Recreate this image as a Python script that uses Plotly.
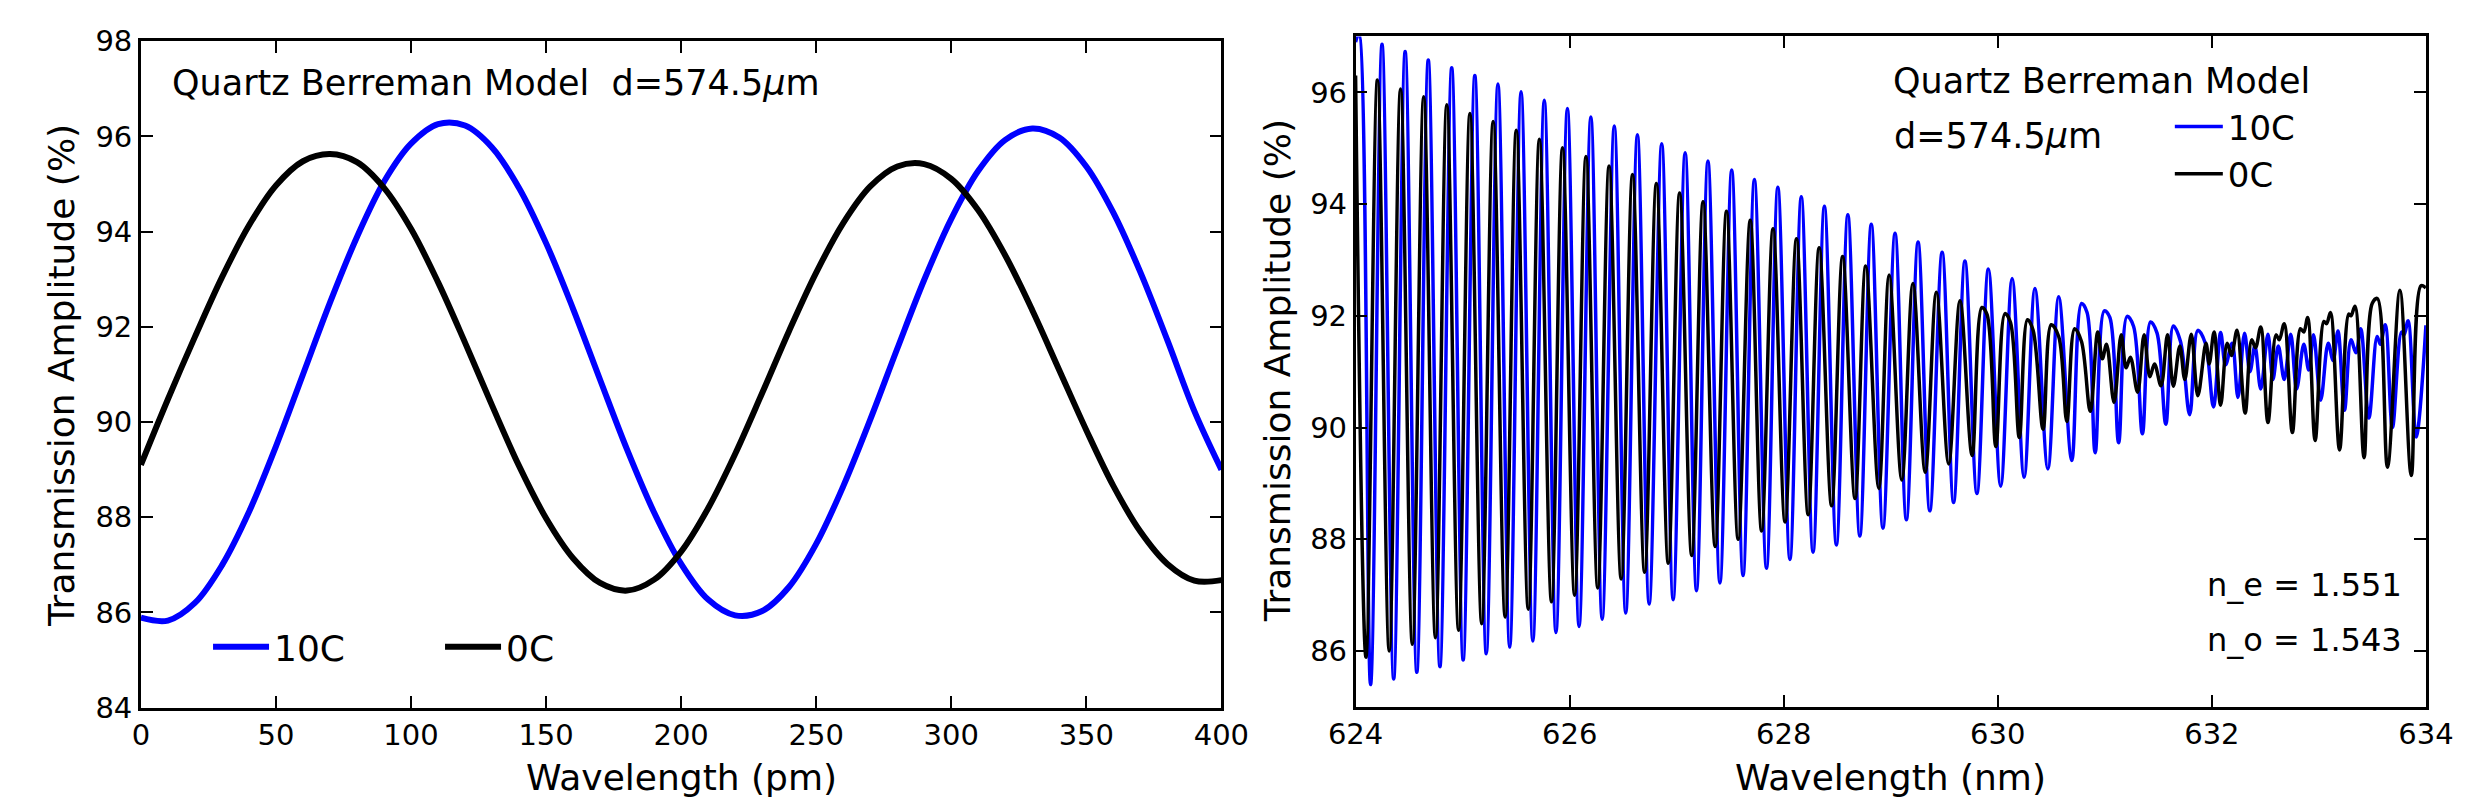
import plotly.graph_objects as go

W, H = 2486, 812
FONT = 'DejaVu Sans'

# ---- left panel: 0-400 pm, values every 10 pm
pm_grid = [0, 10, 20, 30, 40, 50, 60, 70, 80, 90, 100, 110, 120, 130, 140, 150, 160, 170, 180, 190,
           200, 210, 220, 230, 240, 250, 260, 270, 280, 290, 300, 310, 320, 330, 340, 350, 360, 370,
           380, 390, 400]
amp_10c = [85.89, 85.83, 86.20, 86.99, 88.11, 89.49, 91.00, 92.51, 93.89, 95.05, 95.85, 96.26,
           96.23, 95.77, 94.92, 93.76, 92.38, 90.89, 89.42, 88.10, 87.02, 86.27, 85.94, 86.03,
           86.54, 87.44, 88.65, 90.05, 91.54, 92.99, 94.27, 95.28, 95.93, 96.17, 95.98, 95.37,
           94.40, 93.15, 91.72, 90.23, 89.00]
amp_0c = [89.10, 90.48, 91.79, 93.04, 94.13, 94.97, 95.48, 95.63, 95.46, 94.92, 94.06, 92.94,
          91.67, 90.35, 89.08, 87.98, 87.14, 86.62, 86.46, 86.69, 87.28, 88.19, 89.33, 90.61,
          91.92, 93.14, 94.18, 94.95, 95.37, 95.42, 95.11, 94.45, 93.50, 92.35, 91.09, 89.83,
          88.66, 87.70, 87.02, 86.67, 86.68]

# ---- right panel: 624-634 nm, extrema (and shoulders)
nm_pts_10c = [
    (624.000, 96.90), (624.030, 97.05), (624.140, 85.40), (624.247, 96.86), (624.356, 85.50),
    (624.463, 96.73), (624.572, 85.62), (624.679, 96.58), (624.788, 85.72), (624.898, 96.44),
    (625.005, 85.84), (625.114, 96.30), (625.221, 85.95), (625.330, 96.15), (625.440, 86.07),
    (625.546, 96.01), (625.656, 86.18), (625.763, 95.86), (625.872, 86.33), (625.979, 95.71),
    (626.088, 86.44), (626.198, 95.56), (626.304, 86.57), (626.417, 95.40), (626.524, 86.68),
    (626.633, 95.24), (626.743, 86.84), (626.860, 95.08), (626.967, 86.92), (627.079, 94.92),
    (627.185, 87.08), (627.292, 94.77), (627.404, 87.22), (627.514, 94.61), (627.620, 87.35),
    (627.726, 94.44), (627.839, 87.48), (627.945, 94.30), (628.058, 87.64), (628.164, 94.13),
    (628.274, 87.77), (628.380, 93.96), (628.492, 87.90), (628.599, 93.81), (628.711, 88.06),
    (628.818, 93.64), (628.927, 88.20), (629.040, 93.48), (629.146, 88.35), (629.255, 93.32),
    (629.365, 88.51), (629.480, 93.14), (629.587, 88.66), (629.693, 92.98), (629.805, 88.82),
    (629.912, 92.84), (630.027, 88.95), (630.134, 92.67), (630.246, 89.11), (630.347, 92.49),
    (630.468, 89.26), (630.569, 92.34), (630.691, 89.41), (630.782, 92.22), (630.834, 92.06),
    (630.910, 89.55), (630.995, 92.09), (631.047, 91.97), (631.129, 89.73), (631.208, 91.99),
    (631.269, 91.81), (631.351, 89.89), (631.427, 91.89), (631.488, 91.69), (631.570, 90.06),
    (631.640, 91.82), (631.707, 91.54), (631.793, 90.23), (631.869, 91.74), (631.939, 91.51),
    (632.015, 90.37), (632.082, 91.70), (632.128, 91.12), (632.189, 91.51), (632.244, 90.54),
    (632.305, 91.69), (632.356, 91.00), (632.402, 91.46), (632.457, 90.69), (632.524, 91.67),
    (632.570, 90.86), (632.621, 91.46), (632.676, 90.86), (632.737, 91.67), (632.792, 90.69),
    (632.859, 91.49), (632.905, 91.03), (632.950, 91.66), (633.017, 90.49), (633.087, 91.51),
    (633.133, 91.20), (633.178, 91.73), (633.239, 90.31), (633.300, 91.57), (633.346, 91.34),
    (633.391, 91.77), (633.467, 90.17), (633.544, 91.63), (633.574, 91.49), (633.620, 91.84),
    (633.687, 90.00), (633.772, 91.71), (633.796, 91.66), (633.833, 91.91), (633.909, 89.83),
    (634.000, 91.83),
]

nm_pts_0c = [
    (624.000, 96.30), (624.097, 85.89), (624.204, 96.22), (624.314, 86.00), (624.420, 96.06),
    (624.530, 86.12), (624.636, 95.92), (624.746, 86.24), (624.852, 95.78), (624.962, 86.37),
    (625.068, 95.62), (625.178, 86.49), (625.285, 95.48), (625.397, 86.61), (625.501, 95.32),
    (625.613, 86.75), (625.717, 95.16), (625.830, 86.88), (625.933, 95.01), (626.046, 87.00),
    (626.152, 94.85), (626.262, 87.13), (626.368, 94.68), (626.481, 87.29), (626.587, 94.53),
    (626.700, 87.41), (626.810, 94.37), (626.921, 87.57), (627.027, 94.20), (627.140, 87.71),
    (627.246, 94.04), (627.359, 87.87), (627.465, 93.87), (627.574, 88.00), (627.687, 93.71),
    (627.793, 88.15), (627.900, 93.56), (628.012, 88.31), (628.119, 93.38), (628.228, 88.44),
    (628.331, 93.22), (628.447, 88.60), (628.550, 93.06), (628.666, 88.73), (628.766, 92.89),
    (628.888, 88.91), (628.985, 92.73), (629.103, 89.06), (629.207, 92.58), (629.322, 89.20),
    (629.426, 92.42), (629.541, 89.35), (629.647, 92.27), (629.760, 89.50), (629.851, 92.15),
    (629.900, 92.02), (629.982, 89.66), (630.067, 92.04), (630.119, 91.88), (630.201, 89.82),
    (630.277, 91.93), (630.330, 91.74), (630.423, 89.97), (630.499, 91.84), (630.569, 91.63),
    (630.645, 90.11), (630.718, 91.77), (630.782, 91.54), (630.864, 90.29), (630.934, 91.71),
    (630.977, 91.23), (631.016, 91.49), (631.086, 90.45), (631.153, 91.66), (631.199, 91.07),
    (631.239, 91.26), (631.306, 90.63), (631.367, 91.66), (631.421, 90.91), (631.464, 91.14),
    (631.525, 90.75), (631.586, 91.66), (631.640, 90.74), (631.701, 91.46), (631.747, 90.86),
    (631.808, 91.67), (631.869, 90.57), (631.945, 91.51), (631.975, 91.14), (632.021, 91.71),
    (632.082, 90.40), (632.143, 91.51), (632.183, 91.29), (632.235, 91.74), (632.311, 90.26),
    (632.372, 91.57), (632.408, 91.43), (632.457, 91.80), (632.524, 90.09), (632.600, 91.66),
    (632.630, 91.57), (632.676, 91.86), (632.752, 89.91), (632.828, 91.77), (632.859, 91.71),
    (632.895, 91.97), (632.965, 89.77), (633.047, 91.90), (633.072, 91.86), (633.108, 92.06),
    (633.193, 89.60), (633.279, 92.03), (633.300, 92.00), (633.337, 92.17), (633.422, 89.46),
    (633.498, 92.22), (633.547, 92.31), (633.641, 89.29), (633.757, 92.46), (633.863, 89.14),
    (633.954, 92.54), (634.000, 92.50),
]

left_xticks = [0, 50, 100, 150, 200, 250, 300, 350, 400]
left_yticks = [84, 86, 88, 90, 92, 94, 96, 98]
right_xticks = [624, 626, 628, 630, 632, 634]
right_yticks = [86, 88, 90, 92, 94, 96]


def px_x(p):
    return p / W


def px_y(p):
    return 1 - p / H


fig = go.Figure()

fig.add_trace(go.Scatter(x=pm_grid, y=amp_10c, mode='lines', name='10C',
                         line=dict(color='#0000ff', width=6, shape='spline'),
                         xaxis='x', yaxis='y', legend='legend'))
fig.add_trace(go.Scatter(x=pm_grid, y=amp_0c, mode='lines', name='0C',
                         line=dict(color='#000000', width=6, shape='spline'),
                         xaxis='x', yaxis='y', legend='legend'))

fig.add_trace(go.Scatter(x=[p[0] for p in nm_pts_10c], y=[p[1] for p in nm_pts_10c],
                         mode='lines', name='10C',
                         line=dict(color='#0000ff', width=3.5, shape='spline'),
                         xaxis='x2', yaxis='y2', legend='legend2'))
fig.add_trace(go.Scatter(x=[p[0] for p in nm_pts_0c], y=[p[1] for p in nm_pts_0c],
                         mode='lines', name='0C',
                         line=dict(color='#000000', width=3.5, shape='spline'),
                         xaxis='x2', yaxis='y2', legend='legend2'))

axis_style = dict(showline=True, linecolor='black', linewidth=2.5, mirror='ticks',
                  ticks='inside', ticklen=12, tickwidth=2, tickcolor='black',
                  showgrid=False, zeroline=False,
                  tickfont=dict(family=FONT, size=29, color='black'))

fig.update_layout(
    width=W, height=H,
    margin=dict(l=0, r=0, t=0, b=0),
    paper_bgcolor='white', plot_bgcolor='white',
    font=dict(family=FONT, color='black'),
    xaxis=dict(domain=[px_x(107.3), px_x(1212.7)], range=[0, 400],
               tickvals=left_xticks, anchor='y', **axis_style),
    yaxis=dict(domain=[px_y(712.5), px_y(17)], range=[84, 98],
               tickvals=left_yticks, anchor='x', **axis_style),
    xaxis2=dict(domain=[px_x(1350), px_x(2445)], range=[624, 634],
                tickvals=right_xticks, anchor='y2', **axis_style),
    yaxis2=dict(domain=[px_y(711.7), px_y(12)], range=[85, 97],
                tickvals=right_yticks, anchor='x2', **axis_style),
    legend=dict(orientation='h', x=px_x(176), y=px_y(649), xanchor='left', yanchor='middle',
                bgcolor='rgba(0,0,0,0)', font=dict(family=FONT, size=36),
                itemwidth=56, entrywidth=161),
    legend2=dict(orientation='v', x=px_x(2183), y=px_y(131), xanchor='left', yanchor='middle',
                 bgcolor='rgba(0,0,0,0)', font=dict(family=FONT, size=34),
                 itemwidth=48),
)

ann = [
    dict(text='Quartz Berreman Model  d=574.5<i>μ</i>m', x=px_x(137), y=px_y(60.5),
         xanchor='left', yanchor='middle', font=dict(size=35)),
    dict(text='Quartz Berreman Model', x=px_x(1898), y=px_y(58.5),
         xanchor='left', yanchor='middle', font=dict(size=35)),
    dict(text='d=574.5<i>μ</i>m', x=px_x(1899), y=px_y(115.5),
         xanchor='left', yanchor='middle', font=dict(size=35)),
    dict(text='n_e = 1.551', x=px_x(2423), y=px_y(584.3),
         xanchor='right', yanchor='middle', font=dict(size=32)),
    dict(text='n_o = 1.543', x=px_x(2423), y=px_y(642.3),
         xanchor='right', yanchor='middle', font=dict(size=32)),
    dict(text='Wavelength (pm)', x=px_x(660), y=px_y(785),
         xanchor='center', yanchor='middle', font=dict(size=36)),
    dict(text='Wavelength (nm)', x=px_x(1897.5), y=px_y(785),
         xanchor='center', yanchor='middle', font=dict(size=36)),
    dict(text='Transmission Amplitude (%)', x=px_x(26), y=px_y(366), textangle=-90,
         xanchor='center', yanchor='middle', font=dict(size=36)),
    dict(text='Transmission Amplitude (%)', x=px_x(1270), y=px_y(361), textangle=-90,
         xanchor='center', yanchor='middle', font=dict(size=36)),
]
for a in ann:
    a.update(xref='paper', yref='paper', showarrow=False)
    a['font'] = dict(family=FONT, color='black', **a['font'])
fig.update_layout(annotations=ann)

fig.write_html('out.html')
